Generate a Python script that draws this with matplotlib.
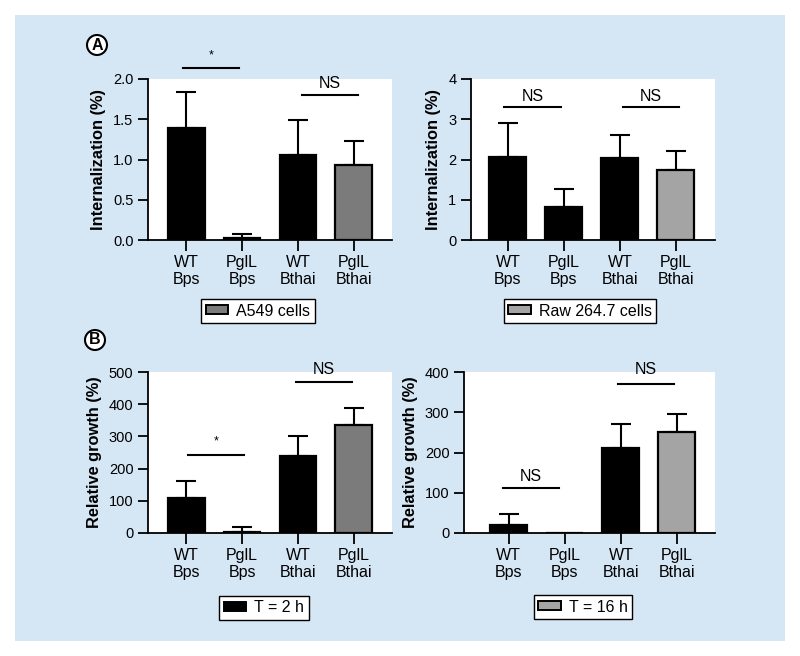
import matplotlib.pyplot as plt
import numpy as np
from matplotlib.patches import Rectangle, Patch, Ellipse

plt.rcParams['font.family'] = ['Liberation Sans', 'DejaVu Sans']

groups = ['WT\nBps', 'PglL\nBps', 'WT\nBthai', 'PglL\nBthai']

a549_mean = [1.39, 0.03, 1.06, 0.93]
a549_err = [0.45, 0.045, 0.43, 0.30]
raw_mean = [2.05, 0.83, 2.03, 1.73]
raw_err = [0.85, 0.43, 0.58, 0.49]
t2_mean = [109, 3, 240, 336]
t2_err = [54, 15, 60, 53]
t16_mean = [19, 0, 211, 250]
t16_err = [28, 0, 61, 46]

dark_gray = '#7b7b7b'
light_gray = '#a4a4a4'
panel_blue = '#d5e6f5'

W, H = 800, 656
fig = plt.figure(figsize=(8, 6.56), dpi=100, facecolor='white')
fig.patches.append(Rectangle((15 / W, 1 - 641 / H), 770 / W, 626 / H,
                             transform=fig.transFigure, facecolor=panel_blue,
                             edgecolor='none', zorder=-10))


def px_axes(x0, x1, y0, y1):
    return fig.add_axes([x0 / W, 1 - y1 / H, (x1 - x0) / W, (y1 - y0) / H])


def draw(ax, means, errs, gray, ylim, yticks, yfmt, ylabel, xlim):
    x = np.arange(len(groups))
    colors = ['black', 'black', 'black', gray]
    ax.bar(x, means, width=0.66, color=colors, edgecolor='black', linewidth=1.6, zorder=2)
    lower = np.zeros(len(errs))
    mask = np.array(errs) > 0
    ax.errorbar(x[mask], np.array(means)[mask], yerr=[lower[mask], np.array(errs)[mask]],
                fmt='none', ecolor='black', elinewidth=1.5, capsize=7, capthick=1.5, zorder=1)
    ax.set_xlim(*xlim)
    ax.set_ylim(*ylim)
    ax.set_yticks(yticks)
    ax.set_yticklabels([yfmt.format(v) for v in yticks])
    ax.set_xticks(x)
    ax.set_xticklabels(groups, linespacing=1.15, fontsize=11.5)
    ax.set_ylabel(ylabel, fontweight='bold', fontsize=11.8, labelpad=5)
    for s in ['top', 'right']:
        ax.spines[s].set_visible(False)
    for s in ['left', 'bottom']:
        ax.spines[s].set_linewidth(1.3)
    ax.tick_params(axis='y', labelsize=10.5, width=1.3, length=7, direction='out')
    ax.tick_params(axis='x', width=1.3, length=8, pad=3)


def sig(ax, x0, x1, y, ty, label, size=11.5):
    ax.plot([x0, x1], [y, y], color='black', lw=1.5, clip_on=False)
    ax.text((x0 + x1) / 2, ty, label, ha='center', va='center', fontsize=size)


def legend(ax, color, label, cx, cy):
    h = Patch(facecolor=color, edgecolor='black', linewidth=1.4)
    leg = ax.legend([h], [label], loc='center', bbox_to_anchor=(cx / W, 1 - cy / H),
                    bbox_transform=fig.transFigure, fancybox=False, framealpha=1,
                    edgecolor='black', fontsize=11.5, handlelength=1.4, handleheight=0.5,
                    handletextpad=0.5, borderpad=0.3, borderaxespad=0)
    leg.get_frame().set_linewidth(1.0)


ax1 = px_axes(148, 392, 79, 240)
draw(ax1, a549_mean, a549_err, dark_gray, (0, 2.0), [0, 0.5, 1.0, 1.5, 2.0], '{:.1f}',
     'Internalization (%)', (-0.68, 3.68))
sig(ax1, -0.05, 0.95, 2.14, 2.29, '*', 9)
sig(ax1, 2.07, 3.07, 1.80, 1.95, 'NS')
legend(ax1, dark_gray, 'A549 cells', 258, 311)

ax2 = px_axes(471, 715, 79, 240)
draw(ax2, raw_mean, raw_err, light_gray, (0, 4), [0, 1, 2, 3, 4], '{:.0f}',
     'Internalization (%)', (-0.66, 3.70))
sig(ax2, -0.07, 0.95, 3.30, 3.56, 'NS')
sig(ax2, 2.05, 3.05, 3.30, 3.56, 'NS')
legend(ax2, light_gray, 'Raw 264.7 cells', 580, 311)

ax3 = px_axes(148, 392, 372, 533)
draw(ax3, t2_mean, t2_err, dark_gray, (0, 500), [0, 100, 200, 300, 400, 500], '{:.0f}',
     'Relative growth (%)', (-0.68, 3.68))
sig(ax3, 0.04, 1.04, 243, 285, '*', 9)
sig(ax3, 1.96, 2.96, 469, 507, 'NS')
legend(ax3, 'black', 'T = 2 h', 264, 608)

ax4 = px_axes(464, 715, 372, 533)
draw(ax4, t16_mean, t16_err, light_gray, (0, 400), [0, 100, 200, 300, 400], '{:.0f}',
     'Relative growth (%)', (-0.80, 3.68))
sig(ax4, -0.10, 0.90, 112, 141, 'NS')
sig(ax4, 1.95, 2.95, 369, 407, 'NS')
legend(ax4, light_gray, 'T = 16 h', 583, 607)

for lab, cx, cy in [('A', 97, 45), ('B', 95, 340)]:
    fig.patches.append(Ellipse((cx / W, 1 - cy / H), 20 / W, 20 / H, transform=fig.transFigure,
                               facecolor='white', edgecolor='black', linewidth=1.5))
    fig.text(cx / W, 1 - cy / H, lab, ha='center', va='center', fontsize=11.5, fontweight='bold')

fig.savefig('out.png', dpi=100, facecolor='white')
